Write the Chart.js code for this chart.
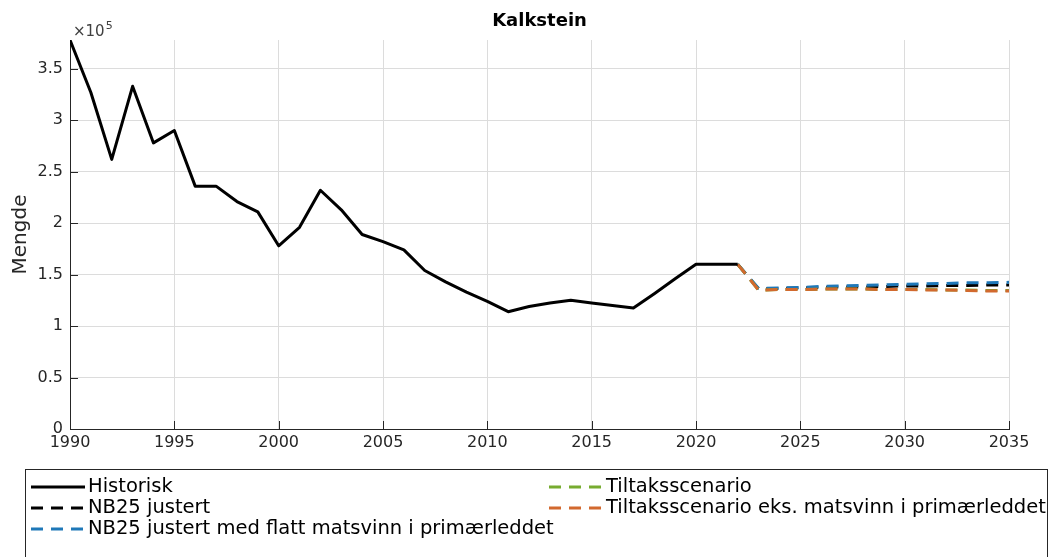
<!DOCTYPE html>
<html>
<head>
<meta charset="utf-8">
<script src="https://cdn.jsdelivr.net/npm/chart.js@4/dist/chart.umd.min.js"></script>
<style>
  html, body { margin: 0; padding: 0; background: #fff; }
  #wrap { width: 1049px; height: 557px; }
</style>
</head>
<body>
<div id="wrap"><canvas id="c" width="1049" height="557"></canvas></div>
<script>
// Historical series (tonnes)
const years = [1990, 1991, 1992, 1993, 1994, 1995, 1996, 1997, 1998, 1999,
               2000, 2001, 2002, 2003, 2004, 2005, 2006, 2007, 2008, 2009,
               2010, 2011, 2012, 2013, 2014, 2015, 2016, 2017, 2018, 2019,
               2020, 2021, 2022];
const historisk = [378000, 327000, 262000, 333000, 278000, 290000, 236000, 236000, 221000, 211000,
                   178000, 196000, 232000, 213000, 189000, 182000, 174000, 154000, 143000, 133000,
                   124000, 114000, 119000, 122500, 125000, 122500, 120000, 117500, 131500, 146000,
                   160000, 160000, 160000];

// Scenario series, starting from the last historical year
const forecastYears = [2022, 2023, 2024, 2025, 2026, 2027, 2028, 2029, 2030, 2031, 2032, 2033, 2034, 2035];
const nb25Justert   = [160000, 136000, 136500, 137000, 137500, 138000, 138000, 138500, 139000, 139000, 139500, 139500, 140000, 140000];
const nb25Flatt     = [160000, 136500, 137000, 137500, 138500, 139000, 139500, 140000, 140500, 141000, 141500, 142000, 142000, 142500];
const tiltak        = [160000, 135000, 135500, 135500, 136000, 136000, 136000, 135500, 135500, 135500, 135000, 135000, 134500, 134500];
const tiltakEks     = [160000, 135000, 135500, 135500, 136000, 136000, 136000, 135500, 135500, 135000, 135000, 134500, 134000, 134000];

const seriesLabels = ['Historisk', 'NB25 justert', 'NB25 justert med flatt matsvinn i primærleddet',
                      'Tiltaksscenario', 'Tiltaksscenario eks. matsvinn i primærleddet'];
const xTickValues = [1990, 1995, 2000, 2005, 2010, 2015, 2020, 2025, 2030, 2035];
const yTickValues = [0, 50000, 100000, 150000, 200000, 250000, 300000, 350000];
const yExponent = 5;

const axisColor = '#262626';
const gridColor = '#dcdcdc';
const dash = [12, 8];

const pts = (xs, ys) => xs.map((x, i) => ({ x: x, y: ys[i] }));

// Inward tick marks, axis exponent and the boxed two-column legend
const axesDecor = {
  id: 'axesDecor',
  afterDraw(chart) {
    const { ctx, chartArea: a, scales } = chart;
    ctx.save();
    ctx.strokeStyle = axisColor;
    ctx.lineWidth = 1;
    ctx.beginPath();
    scales.x.ticks.forEach(t => {
      const px = Math.round(scales.x.getPixelForValue(t.value)) + 0.5;
      ctx.moveTo(px, a.bottom); ctx.lineTo(px, a.bottom - 8);
    });
    scales.y.ticks.forEach(t => {
      const py = Math.round(scales.y.getPixelForValue(t.value)) + 0.5;
      ctx.moveTo(a.left, py); ctx.lineTo(a.left + 8, py);
    });
    ctx.stroke();

    // ×10^5 multiplier above the y axis
    ctx.fillStyle = '#404040';
    ctx.textBaseline = 'alphabetic';
    ctx.font = '15px "DejaVu Sans"';
    const base = '\u00d710';
    ctx.fillText(base, a.left + 3, a.top - 4);
    const w = ctx.measureText(base).width;
    ctx.font = '11px "DejaVu Sans"';
    ctx.fillText(String(yExponent), a.left + 3 + w + 1, a.top - 11);

    // legend frame
    const box = { x: 25.5, y: 469.5, w: 1022, h: 100 };
    ctx.fillStyle = '#fff';
    ctx.fillRect(box.x, box.y, box.w, box.h);
    ctx.strokeStyle = axisColor;
    ctx.strokeRect(box.x, box.y, box.w, box.h);

    const cols = [{ x: 31, idx: [0, 1, 2] }, { x: 549, idx: [3, 4] }];
    const rowY = [487, 508, 529];
    ctx.font = '19.5px "DejaVu Sans"';
    ctx.textBaseline = 'middle';
    cols.forEach(col => {
      col.idx.forEach((di, r) => {
        const ds = chart.data.datasets[di];
        const y = rowY[r];
        ctx.save();
        ctx.strokeStyle = ds.borderColor;
        ctx.lineWidth = ds.borderWidth;
        ctx.setLineDash(ds.borderDash || []);
        ctx.beginPath();
        ctx.moveTo(col.x, y); ctx.lineTo(col.x + 54, y);
        ctx.stroke();
        ctx.restore();
        ctx.fillStyle = '#000';
        ctx.fillText(ds.label, col.x + 57, y);
      });
    });
    ctx.restore();
  }
};

new Chart(document.getElementById('c'), {
  type: 'line',
  data: {
    datasets: [
      { label: seriesLabels[0], data: pts(years, historisk), borderColor: '#000000', borderWidth: 3, order: 0 },
      { label: seriesLabels[1], data: pts(forecastYears, nb25Justert), borderColor: '#000000', borderWidth: 3, borderDash: dash, order: 4 },
      { label: seriesLabels[2], data: pts(forecastYears, nb25Flatt), borderColor: '#1f78b8', borderWidth: 3, borderDash: dash, order: 3 },
      { label: seriesLabels[3], data: pts(forecastYears, tiltak), borderColor: '#77ac30', borderWidth: 3, borderDash: dash, order: 2 },
      { label: seriesLabels[4], data: pts(forecastYears, tiltakEks), borderColor: '#d2692e', borderWidth: 3, borderDash: dash, order: 1 }
    ]
  },
  options: {
    responsive: false,
    animation: false,
    devicePixelRatio: 1,
    elements: { point: { radius: 0 }, line: { tension: 0, borderJoinStyle: 'round', borderCapStyle: 'butt' } },
    layout: { padding: { left: 0, right: 40, top: 0, bottom: 0 } },
    plugins: {
      legend: { display: false },
      tooltip: { enabled: false },
      title: {
        display: true, fullSize: false, text: 'Kalkstein', color: '#000',
        font: { family: 'DejaVu Sans', size: 18, weight: 'bold', lineHeight: 1.2 },
        padding: { top: 11, bottom: 7.4 }
      }
    },
    scales: {
      x: {
        type: 'linear', min: xTickValues[0], max: xTickValues[xTickValues.length - 1],
        afterFit(s) { s.height = 128; },
        afterBuildTicks(s) { s.ticks = xTickValues.map(v => ({ value: v })); },
        grid: { color: gridColor, drawTicks: false },
        border: { display: true, color: axisColor },
        ticks: { color: axisColor, padding: 4, maxRotation: 0, autoSkip: false,
                 font: { family: 'DejaVu Sans', size: 16 }, callback: v => String(v) }
      },
      y: {
        min: 0, max: Math.max(...historisk),
        afterFit(s) { s.width = 70; },
        afterBuildTicks(s) { s.ticks = yTickValues.map(v => ({ value: v })); },
        grid: { color: gridColor, drawTicks: false },
        border: { display: true, color: axisColor },
        title: { display: true, text: 'Mengde', color: axisColor,
                 font: { family: 'DejaVu Sans', size: 20, lineHeight: 1.2 }, padding: { top: 9 } },
        ticks: { color: axisColor, padding: 7, autoSkip: false,
                 font: { family: 'DejaVu Sans', size: 16 },
                 callback: v => String(v / Math.pow(10, yExponent)) }
      }
    }
  },
  plugins: [axesDecor]
});
</script>
</body>
</html>
